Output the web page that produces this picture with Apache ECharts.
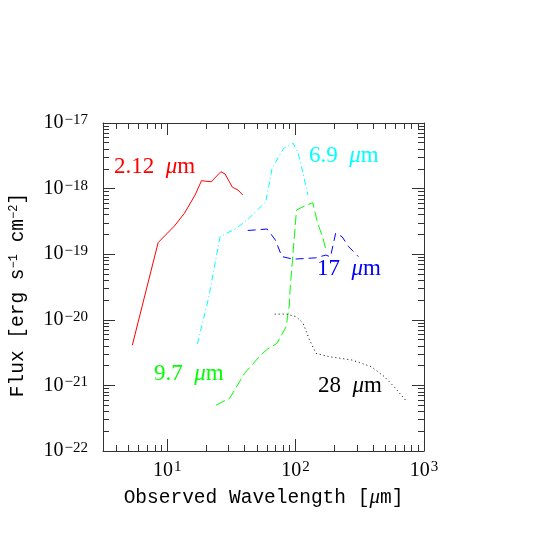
<!DOCTYPE html>
<html>
<head>
<meta charset="utf-8">
<script src="https://cdn.jsdelivr.net/npm/echarts@6/dist/echarts.min.js"></script>
<style>
html, body { margin: 0; padding: 0; background: #fff; }
#chart { width: 545px; height: 545px; }
</style>
</head>
<body>
<div id="chart"></div>
<script>
// wavelengths in micron, fluxes in erg s^-1 cm^-2
var redWave = [5.35, 8.5, 11.4, 13.6, 16.5, 18.5, 22.0, 26.2, 28.2, 32.2, 35.6, 38.8];
var redFlux = [4.1e-21, 1.5e-19, 2.7e-19, 4.2e-19, 8.0e-19, 1.32e-18, 1.27e-18, 1.81e-18, 1.67e-18, 1.05e-18, 9.5e-19, 8.0e-19];

var cyanWave = [17.2, 21.0, 25.8, 34.6, 43.6, 58.5, 62, 65.6, 80.5, 95.9, 104.7, 114.3, 124.7];
var cyanFlux = [4.3e-21, 2.15e-20, 1.85e-19, 2.48e-19, 3.56e-19, 6.3e-19, 1.13e-18, 2.04e-18, 4.1e-18, 4.9e-18, 3.46e-18, 1.71e-18, 8.0e-19];

var blueWave = [42.4, 60.1, 69.6, 78.2, 95.9, 144, 172, 187, 205, 230, 259, 308];
var blueFlux = [2.3e-19, 2.42e-19, 1.64e-19, 9.2e-20, 8.4e-20, 8.8e-20, 9.7e-20, 9.1e-20, 2.09e-19, 1.85e-19, 1.3e-19, 9.2e-20];

var greenWave = [24.0, 30.7, 33.5, 40.0, 53.6, 60.1, 71.6, 84.4, 89.4, 90.5, 95.9, 101.6, 114.3, 136, 148.6, 162, 174];
var greenFlux = [5.0e-22, 6.4e-22, 8.5e-22, 1.53e-21, 2.9e-21, 3.55e-21, 4.38e-21, 7.85e-21, 1.68e-20, 2.85e-20, 1.16e-19, 4.72e-19, 5.3e-19, 6.1e-19, 2.96e-19, 1.85e-19, 1.09e-19];

var blackWave = [68.7, 85.3, 101.6, 114.3, 128.5, 144.2, 182.4, 274, 389, 491, 585, 717];
var blackFlux = [1.22e-20, 1.22e-20, 1.11e-20, 8.85e-21, 4.92e-21, 3.08e-21, 2.74e-21, 2.44e-21, 1.93e-21, 1.36e-21, 9.55e-22, 5.98e-22];

var xDecades = [1, 2, 3];
var yDecades = [-22, -21, -20, -19, -18, -17];

var serif = '"Liberation Serif", "DejaVu Serif", serif';
var mono = '"Liberation Mono", "DejaVu Sans Mono", monospace';
var frame = '#333';

function toLog(xs, ys) {
    var out = [];
    xs.forEach(function (x, i) {
        out.push([Math.log10(x), Math.log10(ys[i])]);
    });
    return out;
}

function minorTicks(lo, hi) {
    var t = [];
    for (var n = lo; n < hi; n++) {
        for (var k = 2; k <= 9; k++) {
            t.push(n + Math.log10(k));
        }
    }
    return t;
}

var xMinor = minorTicks(0, 3).filter(function (v) { return v > 0.5; });
var yMinor = minorTicks(-22, -17);

var supRich = {
    s: { fontFamily: serif, fontSize: 15, color: '#000', verticalAlign: 'middle', padding: [0, 0, 6, 1] }
};

function xAxisPair(pos, withLabels) {
    var major = {
        type: 'value', position: pos, min: 0.5, max: 3,
        axisLine: { show: true, onZero: false, lineStyle: { color: frame, width: 1 } },
        axisTick: { show: true, inside: true, length: 12, customValues: xDecades, lineStyle: { color: frame } },
        axisLabel: { show: false },
        splitLine: { show: false }
    };
    if (withLabels) {
        major.axisLabel = {
            show: true, customValues: xDecades, margin: 9,
            fontFamily: serif, fontSize: 20, color: '#000',
            formatter: function (v) { return '10{s|' + v + '}'; },
            rich: supRich
        };
        major.name = 'Observed Wavelength [{i|μ}m]';
        major.nameLocation = 'middle';
        major.nameGap = 36;
        major.nameTextStyle = {
            fontFamily: mono, fontSize: 19.5, color: '#000',
            rich: { i: { fontFamily: serif, fontStyle: 'italic', fontSize: 21, color: '#000' } }
        };
    }
    var minor = {
        type: 'value', position: pos, min: 0.5, max: 3,
        axisLine: { show: false, onZero: false },
        axisTick: { show: true, inside: true, length: 6, customValues: xMinor, lineStyle: { color: frame } },
        axisLabel: { show: false },
        splitLine: { show: false }
    };
    return [major, minor];
}

function yAxisPair(pos, withLabels) {
    var major = {
        type: 'value', position: pos, min: -22, max: -17,
        axisLine: { show: true, onZero: false, lineStyle: { color: frame, width: 1 } },
        axisTick: { show: true, inside: true, length: 12, customValues: yDecades, lineStyle: { color: frame } },
        axisLabel: { show: false },
        splitLine: { show: false }
    };
    if (withLabels) {
        major.axisLabel = {
            show: true, customValues: yDecades, margin: 15,
            fontFamily: serif, fontSize: 20, color: '#000',
            formatter: function (v) { return '10{s|\u2212' + (-v) + '}'; },
            rich: supRich
        };
        major.name = 'Flux [erg s{s|\u22121} cm{s|\u22122}]';
        major.nameLocation = 'middle';
        major.nameGap = 75;
        major.nameRotate = 90;
        major.nameTextStyle = {
            fontFamily: mono, fontSize: 19.5, color: '#000', padding: [0, 16, 0, 0],
            rich: { s: { fontFamily: mono, fontSize: 12, color: '#000', verticalAlign: 'top' } }
        };
    }
    var minor = {
        type: 'value', position: pos, min: -22, max: -17,
        axisLine: { show: false, onZero: false },
        axisTick: { show: true, inside: true, length: 6, customValues: yMinor, lineStyle: { color: frame } },
        axisLabel: { show: false },
        splitLine: { show: false }
    };
    return [major, minor];
}

function curve(name, xs, ys, color, dash) {
    return {
        name: name, type: 'line', data: toLog(xs, ys),
        xAxisIndex: 0, yAxisIndex: 0,
        showSymbol: false, symbol: 'none', silent: true, animation: false,
        lineStyle: { color: color, width: 1, type: dash }
    };
}

function tag(x, y, num, color) {
    return {
        type: 'text', left: x, top: y,
        style: {
            text: num + '  {i|μ}m', fill: color,
            font: '23px ' + serif,
            rich: { i: { fontFamily: serif, fontStyle: 'italic', fontSize: 23, fill: color } }
        }
    };
}

var myChart = echarts.init(document.getElementById('chart'));

var option = {
    animation: false,
    grid: { left: 95, top: 123, width: 329, height: 328, containLabel: false },
    xAxis: xAxisPair('bottom', true).concat(xAxisPair('top', false)),
    yAxis: yAxisPair('left', true).concat(yAxisPair('right', false)),
    series: [
        curve('2.12', redWave, redFlux, '#ff0000', 'solid'),
        curve('6.9', cyanWave, cyanFlux, '#00ffff', [6, 3, 1, 3]),
        curve('17', blueWave, blueFlux, '#0000ff', [8, 5]),
        curve('9.7', greenWave, greenFlux, '#00ff00', [10, 4]),
        curve('28', blackWave, blackFlux, '#000000', [1, 3])
    ],
    graphic: [
        tag(114, 155, '2.12', '#ff0000'),
        tag(309, 144, '6.9', '#00ffff'),
        tag(317, 257, '17', '#0000ff'),
        tag(154, 362, '9.7', '#00ff00'),
        tag(318, 374, '28', '#000000')
    ]
};

myChart.setOption(option);
</script>
</body>
</html>
